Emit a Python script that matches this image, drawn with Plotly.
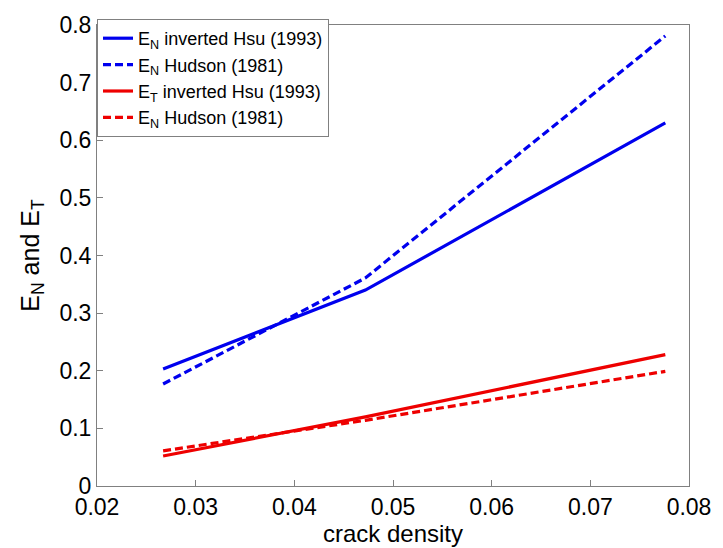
import plotly.graph_objects as go

crack_density = [0.0267, 0.0472, 0.0776]
en_hsu = [0.203, 0.340, 0.630]
en_hudson = [0.177, 0.361, 0.781]
et_hsu = [0.052, 0.120, 0.228]
et_hudson = [0.061, 0.114, 0.199]

names = [
    "E<sub>N</sub> inverted Hsu (1993)",
    "E<sub>N</sub> Hudson (1981)",
    "E<sub>T</sub> inverted Hsu (1993)",
    "E<sub>N</sub> Hudson (1981)",
]
series = [en_hsu, en_hudson, et_hsu, et_hudson]
colors = ["#0000ee", "#0000ee", "#ee0000", "#ee0000"]
dashes = ["solid", "8px,4px", "solid", "8px,4px"]

fig = go.Figure()
for n, s, c, d in zip(names, series, colors, dashes):
    fig.add_trace(go.Scatter(x=crack_density, y=s, mode="lines", name=n,
                             line=dict(color=c, width=3.2, dash=d)))

axis_common = dict(showgrid=False, zeroline=False, showline=True, mirror=True,
                   linecolor="#808080", linewidth=1, ticks="inside", ticklen=6,
                   tickcolor="#808080", tickfont=dict(size=23, color="black"))

fig.update_layout(
    width=723, height=548,
    margin=dict(l=97, r=28, t=17, b=61),
    paper_bgcolor="white", plot_bgcolor="white",
    font=dict(family="Liberation Sans, Arial, sans-serif", color="black"),
    xaxis=dict(range=[0.02, 0.08], tickvals=[0.02, 0.03, 0.04, 0.05, 0.06, 0.07, 0.08],
               ticktext=["0.02", "0.03", "0.04", "0.05", "0.06", "0.07", "0.08"],
               title=dict(text="crack density", font=dict(size=24), standoff=0),
               **axis_common),
    yaxis=dict(range=[0, 0.8], tickvals=[0, 0.1, 0.2, 0.3, 0.4, 0.5, 0.6, 0.7, 0.8],
               ticktext=["0", "0.1", "0.2", "0.3", "0.4", "0.5", "0.6", "0.7", "0.8"],
               title=dict(text="E<sub>N</sub> and E<sub>T</sub>", font=dict(size=25), standoff=12),
               **axis_common),
    legend=dict(x=0, y=1.013, xanchor="left", yanchor="top", bgcolor="white",
                bordercolor="#808080", borderwidth=1, font=dict(size=18),
                tracegroupgap=0, itemwidth=30),
    showlegend=True,
)

fig.write_html("out.html")
